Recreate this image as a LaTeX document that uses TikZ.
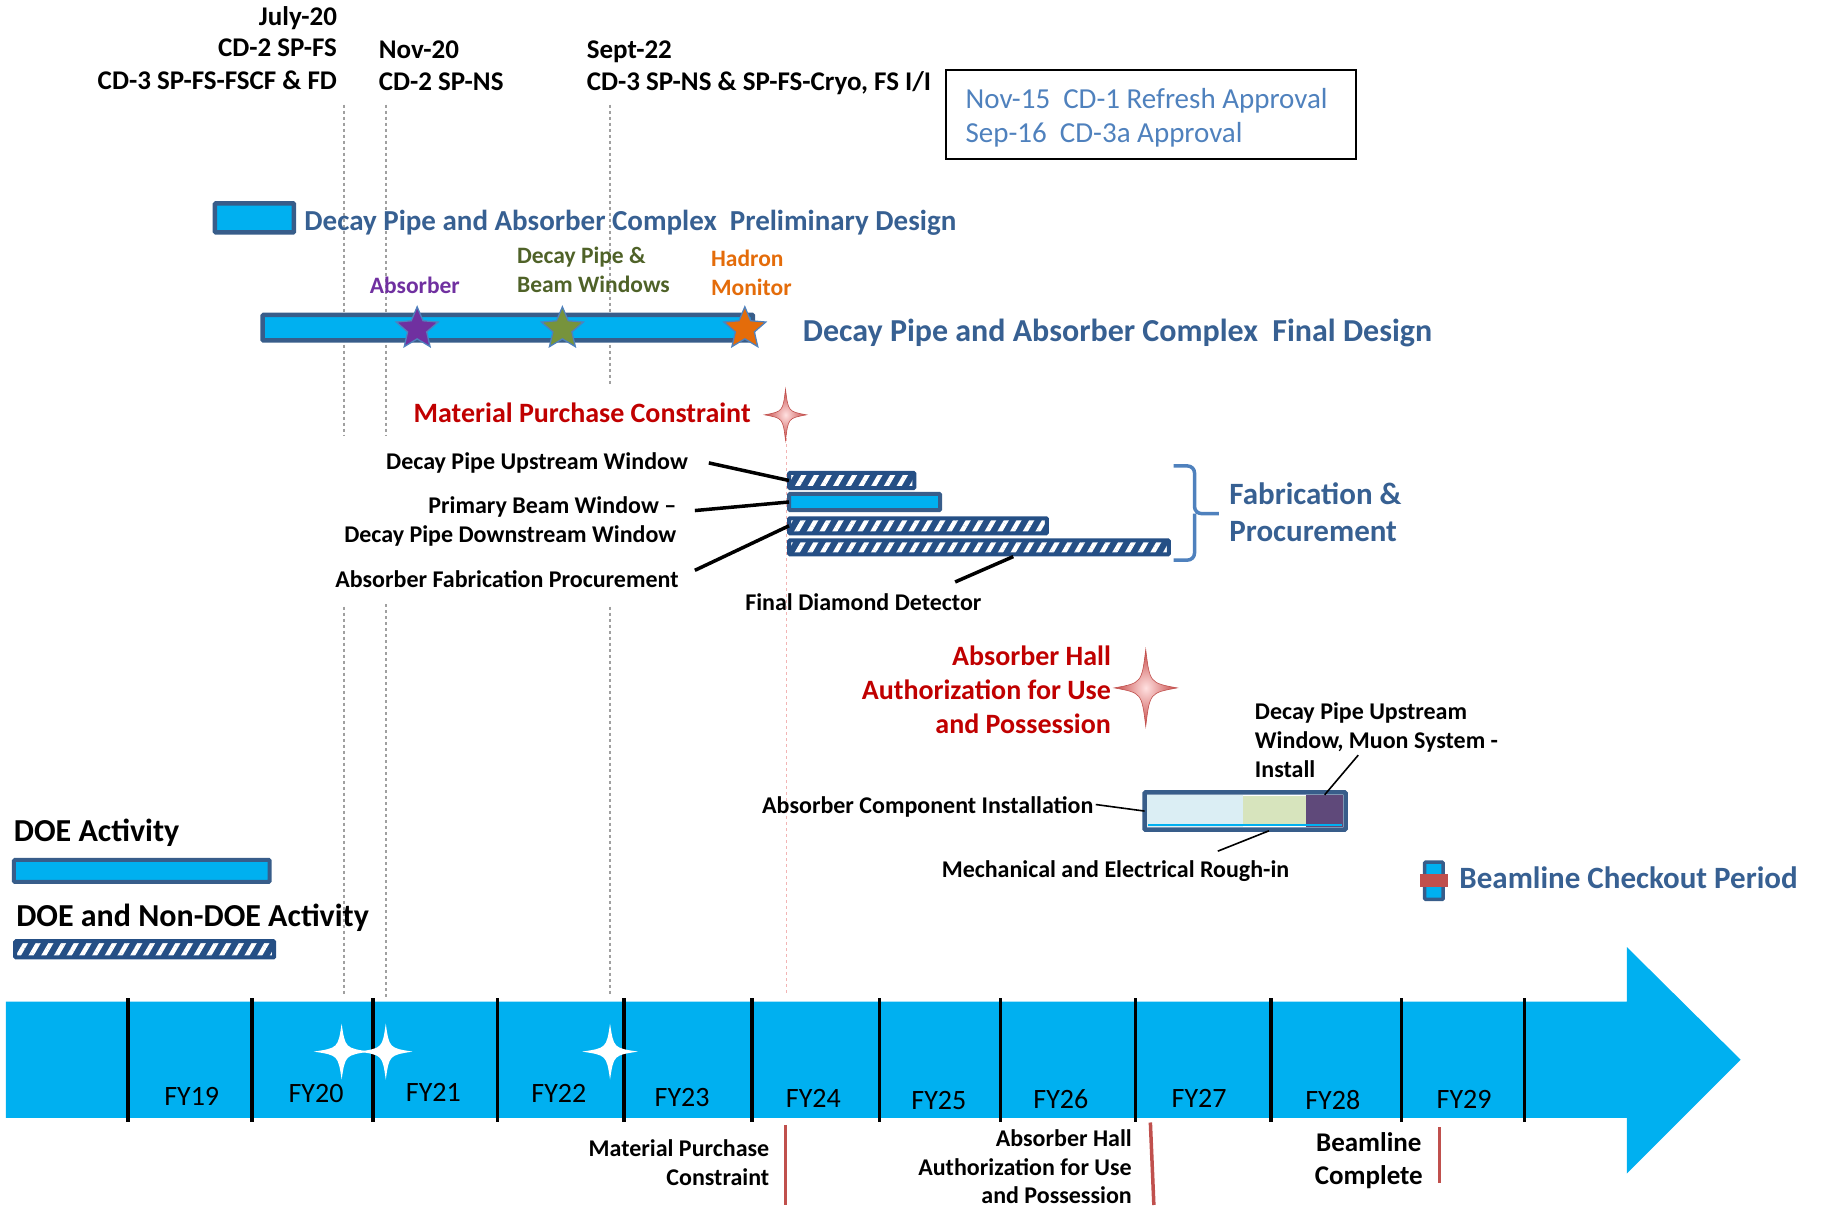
\documentclass[tikz,border=0pt]{standalone}
\usepackage{fontspec}
\setmainfont{Carlito}
\usetikzlibrary{shapes.geometric,patterns.meta}

\definecolor{tlcyan}{HTML}{00B0F0}
\definecolor{barblue}{HTML}{385D8A}
\definecolor{hatchblue}{HTML}{254F85}
\definecolor{titleblue}{HTML}{376092}
\definecolor{legblue}{HTML}{4F81BD}
\definecolor{alertred}{HTML}{C00000}
\definecolor{markred}{HTML}{C0504D}
\definecolor{abspurple}{HTML}{7030A0}
\definecolor{dpgreen}{HTML}{4F6228}
\definecolor{stargreen}{HTML}{77933C}
\definecolor{hmorange}{HTML}{E46C0A}
\definecolor{dotgray}{HTML}{A0A0A0}
\definecolor{paleblue}{HTML}{DBEEF4}
\definecolor{palegreen}{HTML}{D7E4BD}
\definecolor{instpurple}{HTML}{5F497A}
\definecolor{pinkline}{HTML}{F2B4B4}

\def\U{1.162pt}
\newcommand\fsz[1]{\fontsize{#1}{#1}\selectfont}

\begin{document}
\begin{tikzpicture}[x=1.162pt, y=-1.162pt,
  txt/.style={inner sep=0, outer sep=0},
  hdr/.style={txt, font=\bfseries\fsz{27}},
  lbl/.style={txt, font=\bfseries\fsz{24}},
  title/.style={txt, font=\bfseries\fsz{31}, text=titleblue},
  redlbl/.style={txt, font=\bfseries\fsz{28}, text=alertred},
  leglbl/.style={txt, font=\fsz{29}, text=legblue},
  fylbl/.style={txt, font=\fsz{28}, anchor=base},
  box/.style 2 args={rectangle, inner sep=0, outer sep=0, anchor=north west,
    minimum width=#1*\U, minimum height=#2*\U},
  solidbar/.style={fill=tlcyan, draw=barblue, line width=4pt, rounded corners=1pt},
  hatchbar/.style={preaction={fill=hatchblue},
    pattern={Lines[angle=60,distance=11pt,line width=4.5pt]}, pattern color=white,
    draw=hatchblue, line width=4pt, rounded corners=1pt},
  fstar/.style={star, star points=5, star point ratio=2.2, minimum size=44pt,
    inner sep=0, draw=legblue, line width=1.3pt},
  milestone/.style={dotgray, line width=2pt, dash pattern=on 3pt off 3pt},
  leader/.style={black, line width=3.5pt},
  thinleader/.style={black, line width=1.6pt},
  marker/.style={markred, line width=3.5pt},
  tick/.style={black, line width=3.5pt},
  pics/sparkle/.style args={#1/#2/#3}{code={
    \path[#3] (0,#2) .. controls (0.13*#1,0.13*#2) .. (#1,0)
      .. controls (0.13*#1,-0.13*#2) .. (0,-#2)
      .. controls (-0.13*#1,-0.13*#2) .. (-#1,0)
      .. controls (-0.13*#1,0.13*#2) .. (0,#2) -- cycle;}}
]
\useasboundingbox (0,0) rectangle (1568,1039);

% ---------- milestone guide lines ----------
\draw[milestone] (296,90) -- (296,375);
\draw[milestone] (332,90) -- (332,375);
\draw[milestone] (525,90) -- (525,332);
\draw[milestone] (296,522) -- (296,855);
\draw[milestone] (332,520) -- (332,858);
\draw[milestone] (525,522) -- (525,855);
\draw[pinkline, line width=1.3pt, dash pattern=on 3pt off 3pt] (677,372) -- (677,855);

% ---------- milestone headings ----------
\node[hdr, anchor=base east] (jul1) at (290,22) {July-20};
\node[hdr, anchor=base east] (jul2) at (290,49) {CD-2 SP-FS};
\node[hdr, anchor=base east] (jul3) at (290,77) {CD-3 SP-FS-FSCF \& FD};
\node[hdr, anchor=base west] (nov1) at (326,50) {Nov-20};
\node[hdr, anchor=base west] (nov2) at (326,78) {CD-2 SP-NS};
\node[hdr, anchor=base west] (sep1) at (505,50) {Sept-22};
\node[hdr, anchor=base west] (sep2) at (505,78) {CD-3 SP-NS \& SP-FS-Cryo, FS I/I};

% ---------- approvals box ----------
\node[box={353}{77}, draw=black, line width=2pt] (appr) at (814,60) {};
\node[leglbl, anchor=base west] (appr1) at (831,93) {Nov-15\hspace{0.45em}CD-1 Refresh Approval};
\node[leglbl, anchor=base west] (appr2) at (831,123) {Sep-16\hspace{0.45em}CD-3a Approval};

% ---------- design phases ----------
\node[box={68}{25}, solidbar, line width=4.5pt] (prelim) at (185,175) {};
\node[title, font=\bfseries\fsz{29}, anchor=base west] (prelimlbl) at (262,198)
  {Decay Pipe and Absorber Complex\hspace{0.45em}Preliminary Design};

\node[box={422}{22}, solidbar, line width=4.5pt] (final) at (226,271) {};
\node[fstar, fill=abspurple] (sabs) at (359,283) {};
\node[fstar, fill=stargreen] (sdp) at (484,283) {};
\node[fstar, fill=hmorange] (shm) at (641,283) {};
\node[title, font=\bfseries\fsz{32}, anchor=base west] (finallbl) at (691,294)
  {Decay Pipe and Absorber Complex\hspace{0.45em}Final Design};

\node[txt, font=\bfseries\fsz{23.5}, text=abspurple, anchor=base] (labs) at (357,253) {Absorber};
\node[txt, font=\bfseries\fsz{23.5}, text=dpgreen, anchor=base west] (ldp1) at (445,227) {Decay Pipe \&};
\node[txt, font=\bfseries\fsz{23.5}, text=dpgreen, anchor=base west] (ldp2) at (445,252) {Beam Windows};
\node[txt, font=\bfseries\fsz{23.5}, text=hmorange, anchor=base west] (lhm1) at (612,229) {Hadron};
\node[txt, font=\bfseries\fsz{23.5}, text=hmorange, anchor=base west] (lhm2) at (612,254) {Monitor};

% ---------- material purchase constraint ----------
\node[redlbl, anchor=base east] (mpc) at (646,364) {Material Purchase Constraint};
\pic at (676,357) {sparkle={18/22/{shade, inner color=red!12!white, outer color=markred!90!red, draw=markred, line width=0.6pt}}};

% ---------- fabrication and procurement ----------
\node[box={108}{13}, hatchbar] (bar1) at (679,407) {};
\node[box={130}{14}, solidbar] (bar2) at (679,425) {};
\node[box={222}{13}, hatchbar] (bar3) at (679,446) {};
\node[box={327}{12}, hatchbar] (bar4) at (679,465) {};
\coordinate (fddpt) at (872,479);

\node[lbl, anchor=base east] (lup) at (592,404) {Decay Pipe Upstream Window};
\node[lbl, anchor=base east] (lpb) at (582,442) {Primary Beam Window –};
\node[lbl, anchor=base east] (lds) at (582,467) {Decay Pipe Downstream Window};
\node[lbl, anchor=base east] (laf) at (584,506) {Absorber Fabrication Procurement};
\node[lbl, anchor=base] (lfdd) at (743,525) {Final Diamond Detector};

\draw[leader] ([shift={(18,0)}]lup.east) -- (bar1.west);
\draw[leader] ([shift={(16,3)}]lpb.east) -- (bar2.west);
\draw[leader] ([shift={(14,-8)}]laf.east) -- (bar3.west);
\draw[leader] ([shift={(79,-17)}]lfdd.center) -- (fddpt);

% grouping brace
\draw[legblue, line width=3.5pt, rounded corners=7pt]
  (1010,401) -| (1028,442) -- (1049,442) (1028,442) |- (1010,482);
\node[title, anchor=base west] (fab1) at (1058,434) {Fabrication \&};
\node[title, anchor=base west] (fab2) at (1058,466) {Procurement};

% ---------- absorber hall ----------
\node[redlbl, anchor=base east] (ah1) at (956,573) {Absorber Hall};
\node[redlbl, anchor=base east] (ah2) at (956,602) {Authorization for Use};
\node[redlbl, anchor=base east] (ah3) at (956,631) {and Possession};
\pic at (986,592) {sparkle={27/33/{shade, inner color=red!12!white, outer color=markred!90!red, draw=markred, line width=0.6pt}}};

% ---------- installation ----------
\fill[paleblue] (987,684) rectangle (1070,712);
\fill[palegreen] (1070,685) rectangle (1124,711);
\node[box={32}{28}, fill=instpurple] (instp) at (1124,684) {};
\draw[tlcyan, line width=1.6pt] (988,710) -- (1155,710);
\node[box={173}{32}, draw=barblue, line width=4.5pt, rounded corners=1pt] (inst) at (985,682) {};

\node[lbl, anchor=base west] (ldu1) at (1080,619) {Decay Pipe Upstream};
\node[lbl, anchor=base west] (ldu2) at (1080,644) {Window, Muon System -};
\node[lbl, anchor=base west] (ldu3) at (1080,669) {Install};
\node[lbl, anchor=base east] (laci) at (941,700) {Absorber Component Installation};
\node[lbl, anchor=base] (lmer) at (960,755) {Mechanical and Electrical Rough-in};
\coordinate (merpt) at (1092,715);

\draw[thinleader] ([shift={(37,-12)}]ldu3.east) -- (instp.north);
\draw[thinleader] ([shift={(2,-2)}]laci.east) -- (inst.west);
\draw[thinleader] ([shift={(88,-17)}]lmer.center) -- (merpt);

% ---------- beamline checkout ----------
\node[box={16}{32}, fill=tlcyan, draw=barblue, line width=3.5pt, rounded corners=1pt] (chk) at (1226,742) {};
\fill[markred] (1222,752) rectangle (1246,763);
\node[title, anchor=base west] (chklbl) at (1256,765) {Beamline Checkout Period};

% ---------- activity legend ----------
\node[txt, font=\bfseries\fsz{32}, anchor=base west] (doe1) at (12,724) {DOE Activity};
\node[box={220}{19}, solidbar] (doebar) at (12,740) {};
\node[txt, font=\bfseries\fsz{32}, anchor=base west] (doe2) at (14,797) {DOE and Non-DOE Activity};
\node[box={223}{14}, hatchbar] (nondoebar) at (13,810) {};

% ---------- fiscal year timeline ----------
\fill[tlcyan] (5,862) -- (1400,862) -- (1400,815) -- (1498,912) -- (1400,1010)
  -- (1400,962) -- (5,962) -- cycle;
\foreach \x in {110,217,321,428,537,647,757,861,977,1094,1206,1312}
  \draw[tick] (\x,859) -- (\x,966);
\foreach \x/\y/\t in {165/951/FY19,272/949/FY20,373/948/FY21,481/949/FY22,
    587/952/FY23,700/953/FY24,808/955/FY25,913/954/FY26,1032/953/FY27,
    1147/955/FY28,1260/954/FY29}
  \node[fylbl] (\t) at (\x,\y) {\t};

\pic at (294,905) {sparkle={24/24/fill=white}};
\pic at (332,905) {sparkle={23/24/fill=white}};
\pic at (525,905) {sparkle={24/24/fill=white}};

% ---------- key dates below the timeline ----------
\node[lbl, anchor=base east] (bmp1) at (662,995) {Material Purchase};
\node[lbl, anchor=base east] (bmp2) at (662,1020) {Constraint};
\draw[marker] (676,968) -- (676,1037);

\node[lbl, anchor=base east] (bah1) at (974,987) {Absorber Hall};
\node[lbl, anchor=base east] (bah2) at (974,1012) {Authorization for Use};
\node[lbl, anchor=base east] (bah3) at (974,1036) {and Possession};
\draw[marker] (990,966) -- (993,1037);

\node[txt, font=\bfseries\fsz{27}, anchor=base] (bbc1) at (1178,991) {Beamline};
\node[txt, font=\bfseries\fsz{27}, anchor=base] (bbc2) at (1178,1019) {Complete};
\draw[marker] (1239,970) -- (1239,1018);
\end{tikzpicture}
\end{document}
